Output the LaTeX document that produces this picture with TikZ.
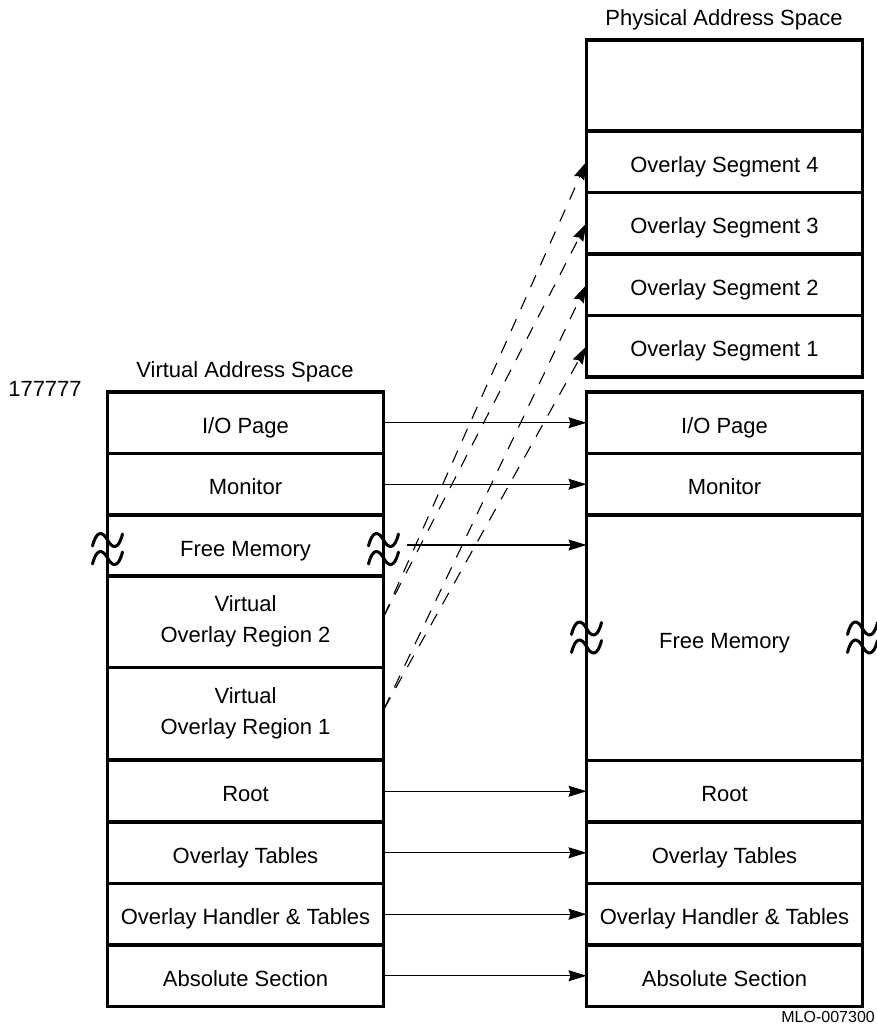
\documentclass[tikz,border=0pt]{standalone}
\usepackage{fontspec}
\setmainfont{Liberation Sans}
\usetikzlibrary{arrows.meta}

\newcommand\rowfont{\fontsize{22pt}{31pt}\selectfont}
\newcommand\tagfont{\fontsize{16pt}{19pt}\selectfont}

\tikzset{
  % one band of a memory map
  memrow/.style={draw, line width=3.2pt, minimum width=276pt, inner sep=0pt,
    outer sep=0pt, font=\rowfont, align=center},
  oneline/.style={memrow, minimum height=#1, text height=21pt, text depth=0pt},
  twoline/.style={memrow, minimum height=#1},
  title/.style={font=\rowfont, inner sep=0pt, anchor=base},
  % mapping arrows
  link/.style={line width=1.1pt, -{Stealth[length=18pt,width=11pt,inset=2pt]}},
  dlink/.style={link, dash pattern=on 13pt off 11pt},
  % double-tilde break mark across a vertical border
  brk/.pic={
    \foreach \dy in {-9,9}{
      \draw[line width=3pt, line cap=round]
        (-15,\dy+6) .. controls (-11,\dy-10) and (-5,\dy-9) .. (0,\dy)
        .. controls (5,\dy+9) and (11,\dy+10) .. (15,\dy-6);
    }
  }
}

\begin{document}
\begin{tikzpicture}[x=1pt,y=-1pt]
  \path[use as bounding box, fill=white] (0,0) rectangle (877,1034);

  % ---------------- virtual address space ----------------
  \node[title] (vtitle) at (245,377) {Virtual Address Space};
  \node[title] (vtop) at (45,396) {177777};

  \node[oneline=61.5pt] (vio)   at (245.5,422.75) {I/O Page};
  \node[oneline=61.5pt] (vmon)  at (245.5,484.25) {Monitor};
  \node[oneline=61.5pt] (vfree) at (245.5,545.75) {Free Memory};
  \node[twoline=92pt]   (vr2)   at (245.5,621.5)  {Virtual\\Overlay Region 2};
  \node[twoline=92pt]   (vr1)   at (245.5,713.5)  {Virtual\\Overlay Region 1};
  \node[oneline=61.5pt] (vroot) at (245.5,791.25) {Root};
  \node[oneline=61.5pt] (vtab)  at (245.5,852.75) {Overlay Tables};
  \node[oneline=61.5pt] (vhan)  at (245.5,914.25) {Overlay Handler \& Tables};
  \node[oneline=61.5pt] (vabs)  at (245.5,975.75) {Absolute Section};

  \pic at (107.5,549) {brk};
  \pic at (383.5,549) {brk};

  % ---------------- physical address space ----------------
  \node[title] (ptitle) at (724,25) {Physical Address Space};

  \node[oneline=91pt]   (ptop)  at (724.5,85.5)   {};
  \node[oneline=61.5pt] (pseg4) at (724.5,161.75) {Overlay Segment 4};
  \node[oneline=61.5pt] (pseg3) at (724.5,223.25) {Overlay Segment 3};
  \node[oneline=61.5pt] (pseg2) at (724.5,284.75) {Overlay Segment 2};
  \node[oneline=61.5pt] (pseg1) at (724.5,346.25) {Overlay Segment 1};

  \node[oneline=61.5pt] (pio)   at (724.5,422.75) {I/O Page};
  \node[oneline=61.5pt] (pmon)  at (724.5,484.25) {Monitor};
  \node[oneline=245.5pt](pfree) at (724.5,637.75) {Free Memory};
  \node[oneline=61.5pt] (proot) at (724.5,791.25) {Root};
  \node[oneline=61.5pt] (ptab)  at (724.5,852.75) {Overlay Tables};
  \node[oneline=61.5pt] (phan)  at (724.5,914.25) {Overlay Handler \& Tables};
  \node[oneline=61.5pt] (pabs)  at (724.5,975.75) {Absolute Section};

  \pic at (586.5,637.5) {brk};
  \pic at (862.5,637.5) {brk};

  \node[font=\tagfont, inner sep=0pt, anchor=base east] (fig) at (875,1022) {MLO-007300};

  % ---------------- mappings ----------------
  \draw[link] (vio.east)   -- (pio.west);
  \draw[link] (vmon.east)  -- (pmon.west);
  \coordinate (fmstart) at (407,545);
  \draw[link] (fmstart)    -- (fmstart -| pfree.west);
  \draw[link] (vroot.east) -- (proot.west);
  \draw[link] (vtab.east)  -- (ptab.west);
  \draw[link] (vhan.east)  -- (phan.west);
  \draw[link] (vabs.east)  -- (pabs.west);

  \coordinate (r2src) at (384,616);
  \coordinate (r1src) at (384,709);
  \draw[dlink] (r2src) -- (pseg4.west);
  \draw[dlink] (r2src) -- (pseg3.west);
  \draw[dlink] (r1src) -- (pseg2.west);
  \draw[dlink] (r1src) -- (pseg1.west);
\end{tikzpicture}
\end{document}
